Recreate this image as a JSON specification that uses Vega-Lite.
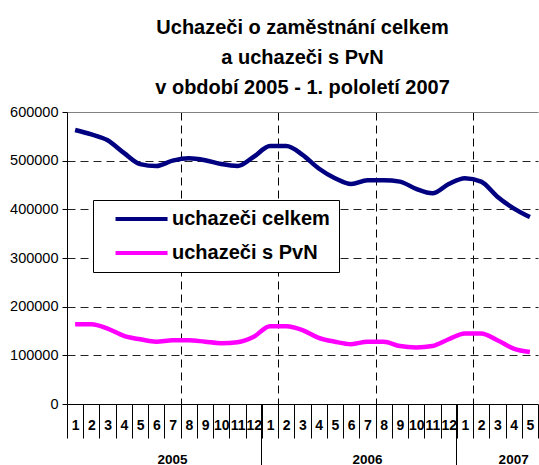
{
  "$schema": "https://vega.github.io/schema/vega-lite/v6.json",
  "width": 471,
  "height": 292,
  "autosize": {"type": "none"},
  "padding": {"left": 67, "top": 112, "right": 1, "bottom": 61},
  "background": "white",
  "config": {"view": {"stroke": null}, "font": "Liberation Sans"},
  "title": {
    "text": ["Uchazeči o zaměstnání celkem", "a uchazeči s PvN", "v období 2005 - 1. pololetí 2007"],
    "fontSize": 20,
    "fontWeight": "bold",
    "font": "Liberation Sans",
    "lineHeight": 30,
    "anchor": "middle",
    "offset": 6,
    "color": "black"
  },
  "data": {
    "values": [
      {"i": 0, "series": "uchazeči celkem", "value": 563000},
      {"i": 1, "series": "uchazeči celkem", "value": 554000},
      {"i": 2, "series": "uchazeči celkem", "value": 542000},
      {"i": 3, "series": "uchazeči celkem", "value": 516000},
      {"i": 4, "series": "uchazeči celkem", "value": 493000},
      {"i": 5, "series": "uchazeči celkem", "value": 489000},
      {"i": 6, "series": "uchazeči celkem", "value": 500000},
      {"i": 7, "series": "uchazeči celkem", "value": 505000},
      {"i": 8, "series": "uchazeči celkem", "value": 501000},
      {"i": 9, "series": "uchazeči celkem", "value": 493000},
      {"i": 10, "series": "uchazeči celkem", "value": 489000},
      {"i": 11, "series": "uchazeči celkem", "value": 508000},
      {"i": 12, "series": "uchazeči celkem", "value": 530000},
      {"i": 13, "series": "uchazeči celkem", "value": 530000},
      {"i": 14, "series": "uchazeči celkem", "value": 512000},
      {"i": 15, "series": "uchazeči celkem", "value": 484000},
      {"i": 16, "series": "uchazeči celkem", "value": 464000},
      {"i": 17, "series": "uchazeči celkem", "value": 452000},
      {"i": 18, "series": "uchazeči celkem", "value": 460000},
      {"i": 19, "series": "uchazeči celkem", "value": 460000},
      {"i": 20, "series": "uchazeči celkem", "value": 457000},
      {"i": 21, "series": "uchazeči celkem", "value": 442000},
      {"i": 22, "series": "uchazeči celkem", "value": 433000},
      {"i": 23, "series": "uchazeči celkem", "value": 452000},
      {"i": 24, "series": "uchazeči celkem", "value": 464000},
      {"i": 25, "series": "uchazeči celkem", "value": 457000},
      {"i": 26, "series": "uchazeči celkem", "value": 426000},
      {"i": 27, "series": "uchazeči celkem", "value": 402000},
      {"i": 28, "series": "uchazeči celkem", "value": 384000},
      {"i": 0, "series": "uchazeči s PvN", "value": 164000},
      {"i": 1, "series": "uchazeči s PvN", "value": 164000},
      {"i": 2, "series": "uchazeči s PvN", "value": 155000},
      {"i": 3, "series": "uchazeči s PvN", "value": 140000},
      {"i": 4, "series": "uchazeči s PvN", "value": 133000},
      {"i": 5, "series": "uchazeči s PvN", "value": 128000},
      {"i": 6, "series": "uchazeči s PvN", "value": 131000},
      {"i": 7, "series": "uchazeči s PvN", "value": 131000},
      {"i": 8, "series": "uchazeči s PvN", "value": 128000},
      {"i": 9, "series": "uchazeči s PvN", "value": 125000},
      {"i": 10, "series": "uchazeči s PvN", "value": 127000},
      {"i": 11, "series": "uchazeči s PvN", "value": 138000},
      {"i": 12, "series": "uchazeči s PvN", "value": 160000},
      {"i": 13, "series": "uchazeči s PvN", "value": 160000},
      {"i": 14, "series": "uchazeči s PvN", "value": 152000},
      {"i": 15, "series": "uchazeči s PvN", "value": 136000},
      {"i": 16, "series": "uchazeči s PvN", "value": 128000},
      {"i": 17, "series": "uchazeči s PvN", "value": 123000},
      {"i": 18, "series": "uchazeči s PvN", "value": 128000},
      {"i": 19, "series": "uchazeči s PvN", "value": 128000},
      {"i": 20, "series": "uchazeči s PvN", "value": 119000},
      {"i": 21, "series": "uchazeči s PvN", "value": 116000},
      {"i": 22, "series": "uchazeči s PvN", "value": 119000},
      {"i": 23, "series": "uchazeči s PvN", "value": 133000},
      {"i": 24, "series": "uchazeči s PvN", "value": 145000},
      {"i": 25, "series": "uchazeči s PvN", "value": 145000},
      {"i": 26, "series": "uchazeči s PvN", "value": 131000},
      {"i": 27, "series": "uchazeči s PvN", "value": 114000},
      {"i": 28, "series": "uchazeči s PvN", "value": 107000}
    ]
  },
  "layer": [
    {
      "mark": {"type": "line", "strokeWidth": 4.5, "interpolate": "monotone"},
      "encoding": {
        "x": {
          "field": "i",
          "type": "ordinal",
          "scale": {"type": "band", "paddingInner": 0, "paddingOuter": 0},
          "axis": {
            "orient": "bottom",
            "title": null,
            "ticks": true,
            "tickBand": "extent",
            "labelExpr": "isNumber(datum.value) ? '' + ((datum.value % 12) + 1) : ''",
            "labelAngle": 0,
            "labelFont": "Liberation Sans",
            "labelFontWeight": "bold",
            "labelFontSize": 14,
            "labelColor": "black",
            "labelBaseline": "middle",
            "labelPadding": -13,
            "labelOverlap": false,
            "tickSize": 34,
            "tickColor": "black",
            "tickWidth": 1,
            "tickOpacity": 1,
            "domainColor": "black",
            "domainWidth": 1,
            "grid": true,
            "gridColor": "black",
            "gridDash": [8, 5],
            "gridOpacity": {"condition": {"test": "datum.value % 6 == 0 && datum.value > 0", "value": 1}, "value": 0}
          }
        },
        "y": {
          "field": "value",
          "type": "quantitative",
          "scale": {"domain": [0, 600000], "nice": false},
          "axis": {
            "title": null,
            "values": [0, 100000, 200000, 300000, 400000, 500000, 600000],
            "format": "d",
            "labelFont": "Liberation Sans",
            "labelFontSize": 14.5,
            "labelColor": "black",
            "labelPadding": 4,
            "tickSize": 5,
            "tickColor": "black",
            "domainColor": "black",
            "grid": true,
            "gridColor": {"condition": {"test": "datum.value == 600000", "value": "#808080"}, "value": "#222222"},
            "gridDash": {"condition": {"test": "datum.value == 600000", "value": []}, "value": [8, 5]},
            "gridOpacity": {"condition": {"test": "datum.value == 0", "value": 0}, "value": 1}
          }
        },
        "color": {
          "field": "series",
          "type": "nominal",
          "scale": {"domain": ["uchazeči celkem", "uchazeči s PvN"], "range": ["#000080", "#FF00FF"]},
          "legend": {
            "orient": "none",
            "legendX": 26,
            "legendY": 88,
            "title": null,
            "symbolType": "M0.64,0H10.1",
            "symbolSize": 121,
            "symbolStrokeWidth": 4,
            "labelFont": "Liberation Sans",
            "labelFontSize": 20,
            "labelFontWeight": "bold",
            "labelColor": "black",
            "labelOffset": 50,
            "rowPadding": 14,
            "strokeColor": "black",
            "fillColor": "white",
            "padding": 9
          }
        }
      }
    },
    {
      "mark": {"type": "line", "opacity": 0},
      "encoding": {
        "x": {
          "field": "i",
          "type": "ordinal",
          "axis": {
            "orient": "bottom",
            "title": null,
            "values": [0, 6, 12, 18, 24, 27],
            "bandPosition": 0,
            "labelExpr": "datum.value == 6 ? '2005' : datum.value == 18 ? '2006' : datum.value == 27 ? '2007' : ''",
            "labelAngle": 0,
            "labelFont": "Liberation Sans",
            "labelFontWeight": "bold",
            "labelFontSize": 13.5,
            "labelColor": "black",
            "labelBaseline": "middle",
            "labelPadding": -6,
            "labelOverlap": false,
            "tickSize": 61,
            "tickColor": "black",
            "tickOpacity": {"condition": {"test": "datum.value % 12 == 0", "value": 1}, "value": 0},
            "domain": false,
            "grid": false
          }
        },
        "y": {"field": "value", "type": "quantitative"},
        "detail": {"field": "series"}
      }
    }
  ],
  "resolve": {"axis": {"x": "independent"}}
}
